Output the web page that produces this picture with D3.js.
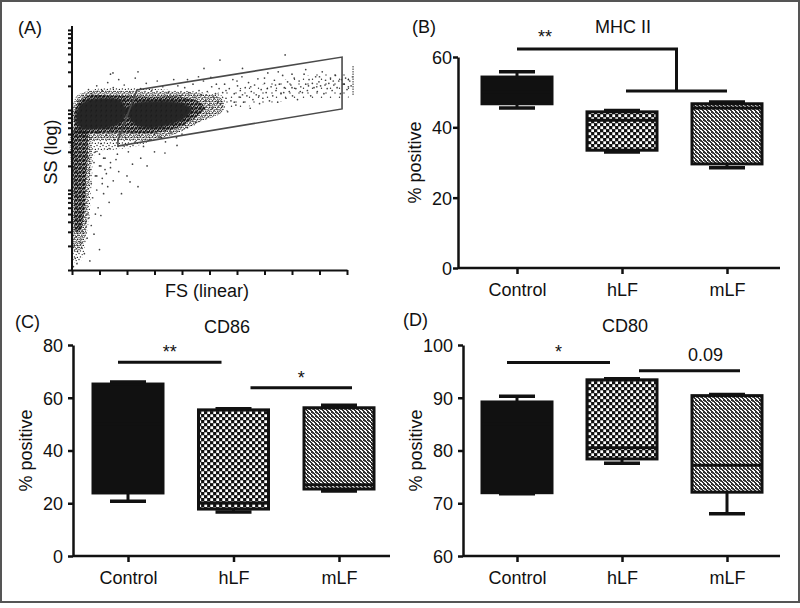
<!DOCTYPE html>
<html><head><meta charset="utf-8">
<script src="https://cdn.jsdelivr.net/npm/d3@7"></script>
<style>
body{margin:0;background:#fff}
text{font-family:"Liberation Sans",Arial,sans-serif;fill:#111}
</style></head><body>
<svg id="chart" width="800" height="608"></svg>
<script>
// ---------------- DATA ----------------
const categories = ["Control", "hLF", "mLF"];

// (B) MHC II  (% positive)
const mhcLow    = [45.5, 33.0, 28.5];
const mhcQ1     = [46.7, 33.5, 29.6];
const mhcMedian = [50.0, 42.0, 45.5];
const mhcQ3     = [54.3, 44.4, 46.7];
const mhcHigh   = [55.8, 44.8, 47.2];
const mhcTicks  = [0, 20, 40, 60];

// (C) CD86
const cd86Low    = [20.8, 16.7, 24.6];
const cd86Q1     = [23.9, 17.8, 25.4];
const cd86Median = [50.0, 20.1, 27.0];
const cd86Q3     = [65.2, 55.4, 56.2];
const cd86High   = [66.0, 55.8, 57.2];
const cd86Ticks  = [0, 20, 40, 60, 80];

// (D) CD80
const cd80Low    = [71.8, 77.6, 68.0];
const cd80Q1     = [72.0, 78.4, 72.1];
const cd80Median = [85.0, 80.5, 77.2];
const cd80Q3     = [89.2, 93.4, 90.4];
const cd80High   = [90.3, 93.6, 90.6];
const cd80Ticks  = [60, 70, 80, 90, 100];

// significance annotations
const mhcSig  = [{from: "Control", to: ["hLF", "mLF"], upper: 62.3, lower: 50.3, label: "**"}];
const cd86Sig = [{a: "Control", b: "hLF", y: 73.5, label: "**"}, {a: "hLF", b: "mLF", y: 63.8, label: "*"}];
const cd80Sig = [{a: "Control", b: "hLF", y: 96.7, label: "*"}, {a: "hLF", b: "mLF", y: 95.1, label: "0.09"}];

// (A) flow cytometry: FS (linear channel), SS (log)
const fsTicks = [0, 100, 200, 300, 400, 500, 600, 700, 800, 900, 1000];
const gateFS = [167, 167, 236, 982, 982];
const gateSS = [35.5, 42, 178, 458, 103];
const markerFS = [1022, 1022];
const markerSS = [154, 365];
const densityRegions = [
  {level: "light", pts: [[4,87],[22,141],[73,178],[156,188],[247,188],[356,178],[465,168],[545,150],[556,106],[484,75],[393,53],[302,42],[211,33.5],[138,31.6],[84,28],[73,14],[65,5.6],[51,2.37],[29,1.26],[7,1.26],[4,7.5]]},
  {level: "faint", pts: [[520,154],[684,205],[829,259],[993,291],[1011,224],[1004,141],[829,133],[684,118],[538,100]]},
  {level: "medium", pts: [[4,79],[15,146],[65,172],[175,172],[284,168],[393,168],[484,158],[545,137],[545,94],[465,71],[375,50],[284,42],[193,42],[102,42],[47,42]]},
  {level: "medium", pts: [[4,60],[58,52],[72,36],[66,16],[58,6],[48,2.6],[30,1.8],[10,1.7],[4,7.5]]},
  {level: "heavy", pts: [[7,71],[18,118],[58,150],[156,150],[284,146],[393,146],[465,125],[484,106],[447,80],[385,60],[302,52],[211,52],[120,52],[47,51],[11,52]]},
  {level: "heavy", pts: [[7,56],[51,54],[58,32],[51,13.3],[44,4.9],[29,3.0],[15,3.0],[7,7.5],[4,23.7]]},
  {level: "dense", pts: [[15,71],[25,112],[58,133],[120,141],[175,133],[196,106],[189,75],[145,61],[84,58],[36,58]]},
  {level: "dense", pts: [[196,100],[229,122],[284,130],[356,130],[411,119],[436,100],[411,79],[356,65],[284,59],[225,67]]}
];
const events = [
  [540,120],[548,165],[555,210],[560,140],[566,95],[572,185],[578,130],[585,240],[590,160],[596,115],[602,200],[608,145],[612,175],[618,260],[624,125],[630,190],[636,150],[642,220],[648,105],[652,170],[658,135],[664,205],[670,155],[676,245],[682,120],[688,180],[694,140],[700,215],[706,165],[712,290],[718,130],[724,195],[730,150],[736,235],[742,175],[748,125],[754,210],[760,160],[766,270],[772,190],[778,140],[784,225],[790,170],[796,205],[802,150],[808,250],[814,185],[820,135],[826,230],[832,195],[838,165],[844,280],[850,210],[856,175],[862,240],[868,150],[874,215],[880,190],[886,260],[892,170],[898,225],[904,200],[910,300],[916,160],[922,235],[928,185],[934,215],[940,250],[946,175],[952,205],[958,270],[964,190],[970,230],[976,160],[985,210],[995,250],[1005,195],[1010,230],
  [560,175],[590,125],[620,155],[650,195],[680,150],[710,185],[740,205],[770,165],[800,190],[830,170],[860,200],[890,195],[920,205],[950,230],[980,240],[600,230],[700,250],[800,280],[900,260],[750,300],[850,320],
  [395,150],[402,120],[410,190],[418,135],[425,165],[432,110],[440,210],[447,145],[455,125],[462,175],[470,155],[478,230],[485,130],[492,170],[500,115],[508,195],[515,145],[522,160],[530,125],[535,185],[420,240],[460,260],[505,255],[450,95],[490,90],[400,85],[430,80],[470,100],[510,105],[525,210],
  [70,160],[90,200],[110,175],[130,220],[150,190],[170,240],[190,205],[210,170],[230,250],[250,185],[270,215],[290,175],[310,230],[330,195],[350,165],[370,240],[385,200],[140,280],[240,300],[149,290],[60,180],[40,150],[25,130],
  [538,420],[775,487],[620,330],[480,330],
  [70,45],[85,30],[95,52],[105,38],[115,25],[125,48],[135,33],[145,55],[155,42],[165,28],[175,50],[185,36],[195,45],[205,30],[215,52],[230,40],[245,48],[260,35],[280,42],[300,50],[320,46],[340,40],[360,52],[380,45],[100,20],[120,18],[140,22],[90,15],[110,12],[338,29],[382,36],[273,20],[211,12.6],[300,30],[250,25],[420,60],[450,70],[400,50],
  [5,4],[10,3.2],[15,2.6],[8,2],[20,1.7],[12,1.4],[25,3.5],[30,2.2],[18,1.2],[35,1.9],[40,3],[45,1.6],[55,2.5],[65,1.3],[80,2.8],[100,1.8],[5,1.1],[28,4.5],[50,4],[70,3.6],
  [60,25],[65,18],[70,12],[75,8],[80,22],[85,15],[90,10],[95,6],[100,28],[105,20],[110,14],[115,9],[120,25],[125,16],[130,11],[135,7],[140,19],[150,13],[160,24],[170,17],[180,9],[200,15],[220,21],[240,11],[58,5],[62,4.5],[85,5],[105,4.8],
  [990,210],[1000,180],[1005,240],[1015,200],[1020,260]
];

// ---------------- DRAWING ----------------
const svg = d3.select("#chart");
const FONT = 18;

svg.append("rect").attr("x", 1).attr("y", 1).attr("width", 798).attr("height", 601)
  .attr("fill", "none").attr("stroke", "#555").attr("stroke-width", 2);

const defs = svg.append("defs");
const chk = defs.append("pattern").attr("id", "checker").attr("patternUnits", "userSpaceOnUse")
  .attr("width", 6).attr("height", 6);
chk.append("rect").attr("width", 6).attr("height", 6).attr("fill", "#111");
chk.append("rect").attr("x", 0.3).attr("y", 0.3).attr("width", 2.8).attr("height", 2.8).attr("fill", "#fff");
chk.append("rect").attr("x", 3.3).attr("y", 3.3).attr("width", 2.8).attr("height", 2.8).attr("fill", "#fff");
const fine = defs.append("pattern").attr("id", "fine").attr("patternUnits", "userSpaceOnUse")
  .attr("width", 4).attr("height", 4);
fine.append("rect").attr("width", 4).attr("height", 4).attr("fill", "#fff");
[[0,0,2,1],[1,1,2,1],[2,2,2,1],[3,3,1,1],[0,3,1,1],[3,0,1,1]].forEach(r =>
  fine.append("rect").attr("x", r[0]).attr("y", r[1]).attr("width", r[2]).attr("height", r[3]).attr("fill", "#333"));
fine.append("rect").attr("x", 0).attr("y", 1).attr("width", 1).attr("height", 1).attr("fill", "#777");

// stipple tiles (texture only) for the cytometry density levels
const stipples = {
  dense:  {size: 5, bg: "#141414", dots: [[1.2,3.1],[3.7,0.9],[4.2,4.1]], dotFill: "#9a9a9a", r: 0.5},
  heavy:  {size: 4, bg: "none", dots: [[0.6,0.7],[2.6,1.2],[1.5,2.6],[3.5,3.2],[0.3,3.7],[3.4,0.2],[2.2,0.0]], dotFill: "#111", r: 0.8},
  medium: {size: 4, bg: "none", dots: [[0.8,0.9],[3.0,1.6],[1.8,3.3],[3.7,3.9]], dotFill: "#1a1a1a", r: 0.7},
  light:  {size: 6, bg: "none", dots: [[1,1.5],[4.2,2.6],[2.4,4.9],[5.4,5.5]], dotFill: "#222", r: 0.7},
  faint:  {size: 9, bg: "none", dots: [[2,3],[6.5,7.2]], dotFill: "#333", r: 0.7}
};
Object.entries(stipples).forEach(([k, s]) => {
  const p = defs.append("pattern").attr("id", "st-" + k).attr("patternUnits", "userSpaceOnUse")
    .attr("width", s.size).attr("height", s.size);
  if (s.bg !== "none") p.append("rect").attr("width", s.size).attr("height", s.size).attr("fill", s.bg);
  s.dots.forEach(d => p.append("circle").attr("cx", d[0]).attr("cy", d[1]).attr("r", s.r).attr("fill", s.dotFill));
});
defs.append("filter").attr("id", "soft").append("feGaussianBlur").attr("stdDeviation", 0.45);
defs.append("filter").attr("id", "softer").attr("x", "-10%").attr("y", "-10%").attr("width", "120%").attr("height", "120%")
  .append("feGaussianBlur").attr("stdDeviation", 0.9);

const fills = {"Control": "#111", "hLF": "url(#checker)", "mLF": "url(#fine)"};

function styleAxis(g) {
  g.selectAll("path, line").attr("stroke", "#111").attr("stroke-width", 2.5);
  g.selectAll("text").attr("font-size", FONT).attr("fill", "#111")
    .attr("font-family", '"Liberation Sans", Arial, sans-serif');
}

function boxPanel(cfg) {
  const g = svg.append("g");
  const x = d3.scalePoint().domain(categories).range([cfg.xFirst, cfg.xLast]);
  const y = d3.scaleLinear().domain([cfg.ticks[0], cfg.ticks[cfg.ticks.length - 1]]).range([cfg.yBottom, cfg.yTop]);

  const ya = g.append("g").attr("transform", `translate(${cfg.axisX},0)`)
    .call(d3.axisLeft(y).tickValues(cfg.ticks).tickSize(5).tickSizeOuter(0).tickPadding(cfg.tickPad));
  styleAxis(ya);
  ya.selectAll("text").attr("dy", "0.36em");
  const xa = g.append("g").attr("transform", `translate(0,${cfg.yBottom})`)
    .call(d3.axisBottom(x).tickSize(6).tickSizeOuter(0).tickPadding(9));
  xa.select(".domain").attr("d", `M${cfg.axisX},0H${cfg.xEnd}`);
  styleAxis(xa);
  xa.selectAll("text").attr("dy", "0.71em");

  categories.forEach((c, i) => {
    const cx = x(c), bw = 70, cw = 36;
    const bg = g.append("g");
    bg.append("line").attr("x1", cx).attr("x2", cx).attr("y1", y(cfg.high[i])).attr("y2", y(cfg.low[i]))
      .attr("stroke", "#111").attr("stroke-width", 3);
    bg.append("rect").attr("x", cx - bw / 2).attr("width", bw)
      .attr("y", y(cfg.q3[i])).attr("height", y(cfg.q1[i]) - y(cfg.q3[i]))
      .attr("fill", fills[c]).attr("stroke", "#111").attr("stroke-width", 3);
    bg.append("line").attr("x1", cx - bw / 2).attr("x2", cx + bw / 2).attr("y1", y(cfg.median[i])).attr("y2", y(cfg.median[i]))
      .attr("stroke", "#111").attr("stroke-width", 3);
    [cfg.high[i], cfg.low[i]].forEach(v => bg.append("line")
      .attr("x1", cx - cw / 2).attr("x2", cx + cw / 2).attr("y1", y(v)).attr("y2", y(v))
      .attr("stroke", "#111").attr("stroke-width", 3.5));
  });

  g.append("text").attr("x", cfg.tagX).attr("y", cfg.tagY).attr("font-size", FONT).text(cfg.tag);
  g.append("text").attr("x", cfg.titleX).attr("y", cfg.titleY).attr("font-size", FONT)
    .attr("text-anchor", "middle").text(cfg.title);
  g.append("text").attr("transform", `translate(${cfg.ylabX},${(cfg.yTop + cfg.yBottom) / 2}) rotate(-90)`)
    .attr("font-size", FONT).attr("text-anchor", "middle").text("% positive");

  if (cfg.bracket) {
    cfg.bracket.forEach(b => {
      const xa1 = x(b.from), xb1 = x(b.to[0]) + 4, xb2 = x(b.to[1]);
      const xm = (xb1 + xb2) / 2;
      g.append("path").attr("d", `M${xa1},${y(b.upper)}H${xm}V${y(b.lower)}`)
        .attr("fill", "none").attr("stroke", "#111").attr("stroke-width", 3);
      g.append("path").attr("d", `M${xb1},${y(b.lower)}H${xb2}`)
        .attr("fill", "none").attr("stroke", "#111").attr("stroke-width", 3);
      g.append("text").attr("x", xa1 + 28).attr("y", y(b.upper) - 6).attr("font-size", FONT)
        .attr("text-anchor", "middle").text(b.label);
    });
  }
  if (cfg.pairs) {
    cfg.pairs.forEach((p, k) => {
      const x1 = k === 0 ? x(p.a) - 10 : x(p.a) + 17;
      const x2 = k === 0 ? x(p.b) - 12 : x(p.b) + 13;
      g.append("line").attr("x1", x1).attr("x2", x2).attr("y1", y(p.y)).attr("y2", y(p.y))
        .attr("stroke", "#111").attr("stroke-width", 3);
      const isStar = /^\*+$/.test(p.label);
      g.append("text").attr("x", (x1 + x2) / 2 + (isStar ? 0 : 16))
        .attr("y", y(p.y) - (isStar ? 4 : 10)).attr("font-size", FONT)
        .attr("text-anchor", "middle").text(p.label);
    });
  }
}

boxPanel({tag: "(B)", tagX: 412, tagY: 33, title: "MHC II", titleX: 623, titleY: 33, ylabX: 421, tickPad: 1,
  axisX: 458, xEnd: 780, xFirst: 517, xLast: 727, yTop: 57, yBottom: 268, ticks: mhcTicks,
  low: mhcLow, q1: mhcQ1, median: mhcMedian, q3: mhcQ3, high: mhcHigh, bracket: mhcSig});
boxPanel({tag: "(C)", tagX: 15, tagY: 328, title: "CD86", titleX: 227, titleY: 333, ylabX: 32, tickPad: 5,
  axisX: 73, xEnd: 390, xFirst: 128, xLast: 339, yTop: 345, yBottom: 556, ticks: cd86Ticks,
  low: cd86Low, q1: cd86Q1, median: cd86Median, q3: cd86Q3, high: cd86High, pairs: cd86Sig});
boxPanel({tag: "(D)", tagX: 403, tagY: 326, title: "CD80", titleX: 625, titleY: 332, ylabX: 422, tickPad: 5,
  axisX: 463, xEnd: 780, xFirst: 517, xLast: 727, yTop: 345, yBottom: 556, ticks: cd80Ticks,
  low: cd80Low, q1: cd80Q1, median: cd80Median, q3: cd80Q3, high: cd80High, pairs: cd80Sig});

// ---------- panel A ----------
const gA = svg.append("g");
const xA = d3.scaleLinear().domain([0, 1000]).range([72, 347]);
const yA = d3.scaleLog().domain([1, 1120]).range([270, 26]);
const area = d3.line().x(d => xA(d[0])).y(d => yA(d[1])).curve(d3.curveCatmullRomClosed);
const cloud = gA.append("g").attr("filter", "url(#soft)");
cloud.selectAll("path.lvl").data(densityRegions.filter(d => d.level !== "dense")).join("path").attr("class", "lvl")
  .attr("d", d => area(d.pts)).attr("fill", d => `url(#st-${d.level})`);
gA.append("g").attr("filter", "url(#softer)").selectAll("path").data(densityRegions.filter(d => d.level === "dense")).join("path")
  .attr("d", d => area(d.pts)).attr("fill", "url(#st-dense)");
gA.append("g").attr("filter", "url(#soft)").selectAll("circle").data(events).join("circle")
  .attr("cx", d => xA(d[0])).attr("cy", d => yA(d[1])).attr("r", 0.85)
  .attr("fill", "#222").attr("fill-opacity", 0.85);

const gate = d3.line().x(d => xA(d[0])).y(d => yA(d[1]));
gA.append("path").attr("d", gate(gateFS.map((f, i) => [f, gateSS[i]])) + "Z")
  .attr("fill", "none").attr("stroke", "#4a4a4a").attr("stroke-width", 1.6);
gA.append("path").attr("d", gate(markerFS.map((f, i) => [f, markerSS[i]])))
  .attr("fill", "none").attr("stroke", "#777").attr("stroke-width", 1.5).attr("stroke-dasharray", "1.5,1");

const axA = gA.append("g").attr("transform", "translate(0,270)")
  .call(d3.axisBottom(xA).tickValues(fsTicks).tickFormat("").tickSize(5).tickSizeOuter(0));
const ayA = gA.append("g").attr("transform", "translate(72,0)")
  .call(d3.axisLeft(yA).tickValues(yA.ticks()).tickFormat("").tickSize(4).tickSizeOuter(0));
[axA, ayA].forEach(a => a.selectAll("path, line").attr("stroke", "#111").attr("stroke-width", 2));
ayA.select(".domain").attr("d", "M0,26V270");

gA.append("text").attr("x", 18).attr("y", 34).attr("font-size", FONT).text("(A)");
gA.append("text").attr("transform", "translate(57,152) rotate(-90)").attr("font-size", FONT)
  .attr("text-anchor", "middle").text("SS (log)");
gA.append("text").attr("x", 207).attr("y", 297).attr("font-size", FONT)
  .attr("text-anchor", "middle").text("FS (linear)");
</script>
</body></html>
